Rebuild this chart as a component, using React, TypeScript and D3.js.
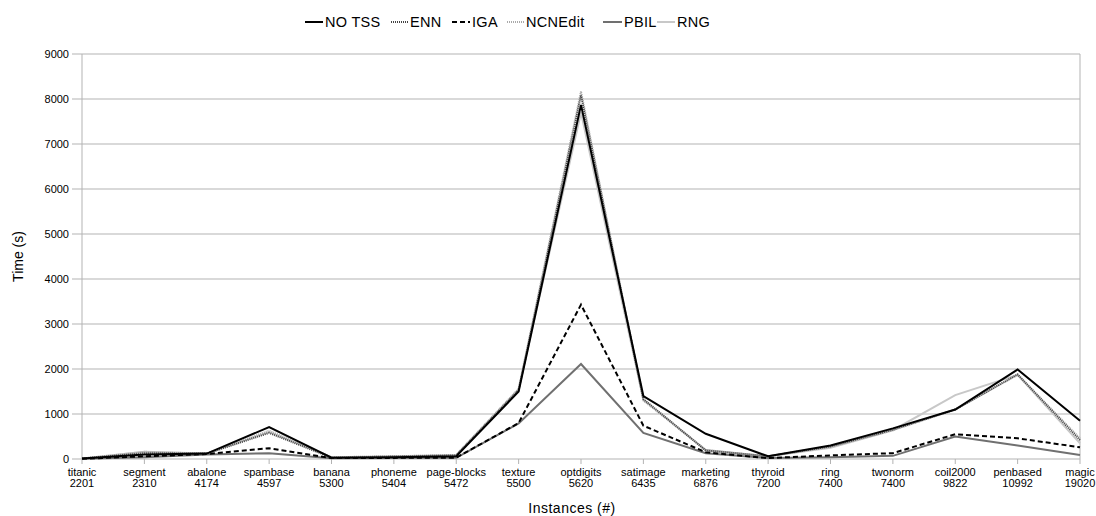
import React from "react";
import * as d3 from "d3";

const categories = ["titanic","segment","abalone","spambase","banana","phoneme","page-blocks","texture","optdigits","satimage","marketing","thyroid","ring","twonorm","coil2000","penbased","magic"];
const instances = ["2201","2310","4174","4597","5300","5404","5472","5500","5620","6435","6876","7200","7400","7400","9822","10992","19020"];
const yTicks = [0,1000,2000,3000,4000,5000,6000,7000,8000,9000];

const noTss =   [10, 100, 120, 710, 30, 40, 60, 1500, 7870, 1400, 560, 60, 300, 680, 1100, 1990, 850];
const enn =     [10, 130, 120, 580, 30, 55, 80, 1530, 8080, 1330, 190, 60, 280, 650, 1100, 1880, 420];
const iga =     [5, 60, 110, 240, 20, 25, 30, 800, 3430, 740, 150, 20, 80, 130, 550, 460, 260];
const ncnEdit = [10, 160, 120, 630, 40, 60, 90, 1560, 8170, 1300, 200, 60, 270, 640, 1100, 1870, 460];
const pbil =    [5, 40, 100, 130, 15, 20, 25, 790, 2110, 580, 130, 20, 40, 70, 500, 300, 90];
const rng =     [10, 160, 120, 600, 40, 60, 90, 1550, 7700, 1320, 200, 60, 250, 640, 1420, 1870, 350];

const seriesNames = ["NO TSS","ENN","IGA","NCNEdit","PBIL","RNG"];
const seriesValues = [noTss, enn, iga, ncnEdit, pbil, rng];
const seriesStyle = [
  { color: "#000000", width: 2, dash: "" },
  { color: "#444444", width: 2, dash: "1,1" },
  { color: "#000000", width: 2, dash: "5,3" },
  { color: "#aaaaaa", width: 2, dash: "1,1" },
  { color: "#707070", width: 2, dash: "" },
  { color: "#c8c8c8", width: 2, dash: "" },
];

export default function App() {
  const W = 1096, H = 516;
  const left = 82, right = 1080, top = 54, bottom = 459;
  const x = d3.scalePoint<number>().domain(d3.range(categories.length)).range([left, right]);
  const y = d3.scaleLinear().domain([0, 9000]).range([bottom, top]);
  const line = d3.line<number>().x((_, i) => x(i)!).y(d => y(d));
  const font = "'Liberation Sans', Arial, sans-serif";

  const legendX = [305, 391, 452, 507, 603, 657];
  const legendW = [18, 17, 18, 17, 19, 18];
  const legendY = 22;

  return (
    <svg width={W} height={H} style={{ position: "absolute", left: 0, top: 0, background: "#fff" }} fontFamily={font}>
      {yTicks.map(t => (
        <g key={t}>
          <line x1={left - 10} x2={right} y1={y(t)} y2={y(t)} stroke="#b3b3b3" strokeWidth={1} />
          <text x={left - 13} y={y(t)} dy="0.35em" textAnchor="end" fontSize={11} fill="#000">{t}</text>
        </g>
      ))}
      <line x1={left} x2={left} y1={top} y2={bottom} stroke="#b3b3b3" />
      <line x1={right} x2={right} y1={top} y2={bottom} stroke="#b3b3b3" />
      {categories.map((c, i) => (
        <g key={c + i}>
          <line x1={x(i)} x2={x(i)} y1={bottom} y2={bottom + 5} stroke="#b3b3b3" />
          <text x={x(i)} y={bottom + 13} dy="0.35em" textAnchor="middle" fontSize={11} fill="#000">{c}</text>
          <text x={x(i)} y={bottom + 24} dy="0.35em" textAnchor="middle" fontSize={11} fill="#000">{instances[i]}</text>
        </g>
      ))}
      {seriesValues.map((vals, k) => (
        <path key={seriesNames[k]} d={line(vals)!} fill="none" stroke={seriesStyle[k].color}
          strokeWidth={seriesStyle[k].width} strokeDasharray={seriesStyle[k].dash} strokeLinejoin="miter" />
      )).reverse()}
      <text transform={`translate(23,${(top + bottom) / 2}) rotate(-90)`} textAnchor="middle" fontSize={14} fill="#000">Time (s)</text>
      <text x={572} y={508} dy="0.35em" textAnchor="middle" fontSize={14} letterSpacing={0.5} fill="#000">Instances (#)</text>
      {seriesNames.map((n, k) => (
        <g key={n}>
          <line x1={legendX[k]} x2={legendX[k] + legendW[k]} y1={legendY} y2={legendY} stroke={seriesStyle[k].color}
            strokeWidth={seriesStyle[k].width} strokeDasharray={seriesStyle[k].dash} />
          <text x={legendX[k] + legendW[k] + 2} y={legendY} dy="0.35em" fontSize={14.5} letterSpacing={0.3} fill="#000">{n}</text>
        </g>
      ))}
    </svg>
  );
}
